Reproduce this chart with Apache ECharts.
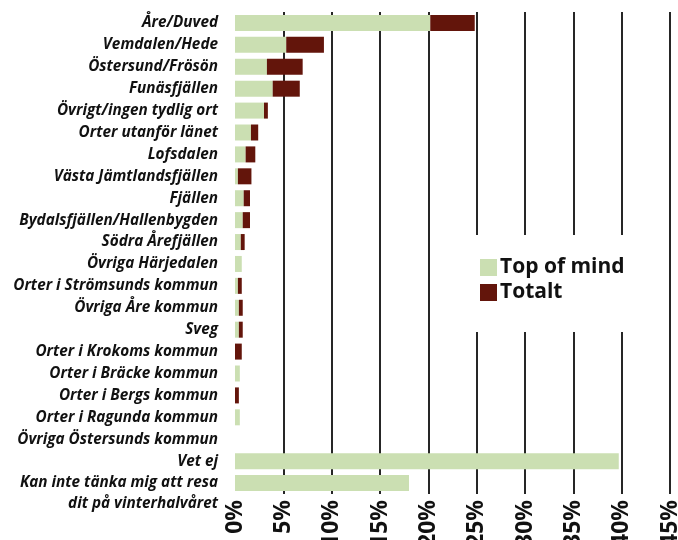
<!DOCTYPE html>
<html>
<head>
<meta charset="utf-8">
<script src="https://cdn.jsdelivr.net/npm/echarts@6/dist/echarts.min.js"></script>
<style>
  html, body { margin: 0; padding: 0; background: #ffffff; }
  #chart { width: 678px; height: 540px; }
</style>
</head>
<body>
<div id="chart"></div>
<script>
// Destinations (top to bottom)
const categories = [
  'Åre/Duved',
  'Vemdalen/Hede',
  'Östersund/Frösön',
  'Funäsfjällen',
  'Övrigt/ingen tydlig ort',
  'Orter utanför länet',
  'Lofsdalen',
  'Västa Jämtlandsfjällen',
  'Fjällen',
  'Bydalsfjällen/Hallenbygden',
  'Södra Årefjällen',
  'Övriga Härjedalen',
  'Orter i Strömsunds kommun',
  'Övriga Åre kommun',
  'Sveg',
  'Orter i Krokoms kommun',
  'Orter i Bräcke kommun',
  'Orter i Bergs kommun',
  'Orter i Ragunda kommun',
  'Övriga Östersunds kommun',
  'Vet ej',
  'Kan inte tänka mig att resa\ndit på vinterhalvåret'
];

// Share of respondents, percent
const topOfMind = [20.2, 5.3, 3.3, 3.9, 3.0, 1.65, 1.1, 0.3, 0.9, 0.8, 0.6, 0.7, 0.3, 0.4, 0.4, 0, 0.5, 0, 0.5, 0, 39.7, 18.0];
const totalt    = [24.8, 9.2, 7.0, 6.7, 3.4, 2.4, 2.1, 1.7, 1.55, 1.55, 1.0, 0.7, 0.7, 0.8, 0.8, 0.7, 0.5, 0.4, 0.5, 0, 39.7, 18.0];

// Value axis ticks
const tickMin = 0, tickMax = 45, tickStep = 5;

const chart = echarts.init(document.getElementById('chart'), null, { renderer: 'canvas' });

const LIGHT = '#cbdfb2';
const DARK = '#63150b';
const FONT = '"Open Sans", sans-serif';

// Totalt is drawn as the part beyond top-of-mind, stacked on it
const totaltExtra = totalt.map((t, i) => +(t - topOfMind[i]).toFixed(2));

chart.setOption({
  animation: false,
  backgroundColor: '#ffffff',
  grid: { left: 235, right: 8, top: 12, bottom: 46, containLabel: false, outerBoundsMode: 'none' },
  legend: {
    data: ['Top of mind', 'Totalt'],
    left: 470,
    top: 235,
    orient: 'vertical',
    backgroundColor: '#ffffff',
    padding: [22, 30, 29, 10],
    itemWidth: 17,
    itemHeight: 17,
    itemGap: 4,
    icon: 'rect',
    textStyle: { fontFamily: FONT, fontWeight: 'bold', fontSize: 21, color: '#111111', padding: [0, 0, 0, -2] },
    z: 10
  },
  xAxis: {
    type: 'value',
    min: tickMin,
    max: tickMax,
    interval: tickStep,
    axisLine: { show: false },
    axisTick: { show: false },
    splitLine: { show: true, showMinLine: false, lineStyle: { color: '#262626', width: 2 } },
    axisLabel: {
      rotate: 90,
      margin: 6,
      fontFamily: FONT,
      fontWeight: 'bold',
      fontSize: 23,
      color: '#111111',
      backgroundColor: '#ffffff',
      formatter: v => v + '%'
    }
  },
  yAxis: {
    type: 'category',
    inverse: true,
    data: categories,
    axisLine: { show: false },
    axisTick: { show: false },
    splitLine: { show: false },
    axisLabel: {
      interval: 0,
      hideOverlap: false,
      margin: 17,
      fontFamily: FONT,
      fontStyle: 'italic',
      fontWeight: 'bold',
      fontSize: 15.3,
      lineHeight: 21,
      color: '#111111',
      // two-line labels start level with their bar
      formatter: v => (v.indexOf('\n') >= 0 ? '\n' + v : v)
    }
  },
  series: [
    {
      name: 'Top of mind',
      type: 'bar',
      stack: 'andel',
      data: topOfMind,
      barWidth: 16,
      itemStyle: { color: LIGHT, borderWidth: 0 }
    },
    {
      name: 'Totalt',
      type: 'bar',
      stack: 'andel',
      data: totaltExtra,
      barWidth: 16,
      itemStyle: { color: DARK, borderWidth: 0 }
    }
  ]
});
</script>
</body>
</html>
